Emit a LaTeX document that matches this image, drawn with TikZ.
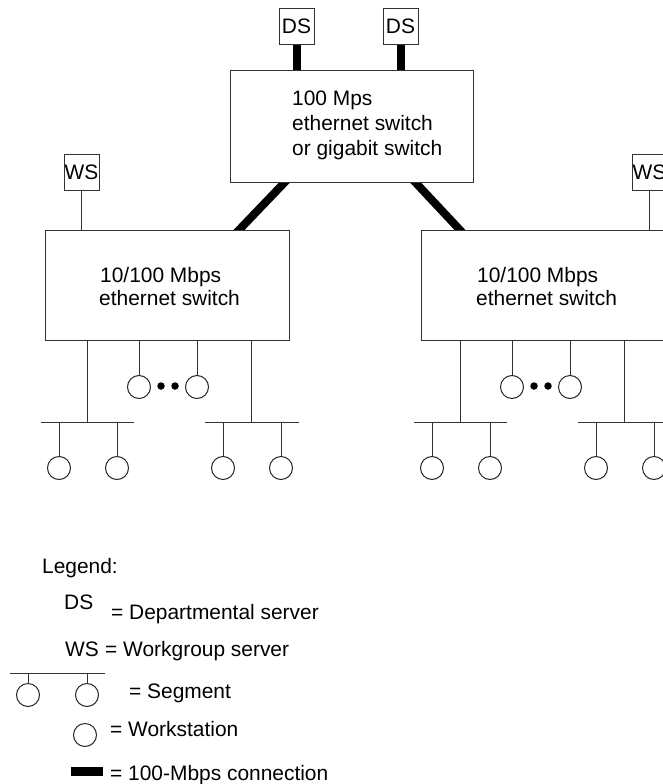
\documentclass[tikz,border=0pt]{standalone}
\usepackage{fontspec}
\setmainfont{Liberation Sans}
\usetikzlibrary{calc,positioning,backgrounds}

\begin{document}
\begin{tikzpicture}[x=1bp,y=-1bp,
  font=\fontsize{21}{25}\selectfont,
  box/.style={rectangle, draw=black!80, fill=white, line width=1bp, inner sep=0pt},
  srv/.style={rectangle, draw=black!80, fill=white, line width=1bp,
    minimum width=35bp, minimum height=36bp, inner sep=0pt},
  wst/.style={circle, draw=black!85, line width=1bp, minimum size=23bp, inner sep=0pt},
  dotn/.style={circle, fill=black, minimum size=7.5bp, inner sep=0pt},
  lbl/.style={anchor=base west, inner sep=0pt},
  wire/.style={draw=black!80, line width=1bp},
  fat/.style={line width=8bp, shorten <=-6bp, shorten >=-6bp}
]
\clip (0,0) rectangle (663,784);
\useasboundingbox (0,0) rectangle (663,784);

% Core switch and departmental servers
\node[box, minimum width=243bp, minimum height=111bp] (core) at (351.5,126.5) {};
\node[lbl] (core1) at (292,105) {100 Mps};
\node[lbl] (core2) at (292,130) {ethernet switch};
\node[lbl] (core3) at (292,155) {or gigabit switch};
\node[srv] (ds1) at (296.5,26.5) {DS};
\node[srv] (ds2) at (400.5,26.5) {DS};

% Workgroup switches
\node[box, minimum width=243bp, minimum height=110bp] (swl) at (167.5,285) {};
\node[box, minimum width=243bp, minimum height=110bp] (swr) at (542.5,285) {};
\node[lbl] (swl1) at (100,282) {10/100 Mbps};
\node[lbl] (swl2) at (99,305) {ethernet switch};
\node[lbl] (swr1) at (477,282) {10/100 Mbps};
\node[lbl] (swr2) at (476,305) {ethernet switch};
\node[srv] (wsl) at (81.5,172.5) {WS};
\node[srv] (wsr) at (649.5,172) {WS};

% 100-Mbps links
\begin{scope}[on background layer]
\draw[fat] (ds1.south) -- (ds1.south |- core.north);
\draw[fat] (ds2.south) -- (ds2.south |- core.north);
\draw[fat] ($(core.south west)+(55,0)$) -- ($(swl.north west)+(194,0)$);
\draw[fat] ($(core.south east)+(-58,0)$) -- ($(swr.north west)+(39,0)$);
\end{scope}
\draw[wire] (wsl.south) -- (wsl.south |- swl.north);
\draw[wire] (wsr.south) -- (wsr.south |- swr.north);

% Segments and workstations below each switch
\foreach \s/\dx in {l/0,r/373} {
  \coordinate (\s-ba) at (\dx+41,422);
  \coordinate (\s-bb) at (\dx+134,422);
  \coordinate (\s-bc) at (\dx+205,422);
  \coordinate (\s-bd) at (\dx+299,422);
  \coordinate (\s-t1) at (\dx+87,422);
  \coordinate (\s-t2) at (\dx+251,422);
  \draw[wire] (\s-ba) -- (\s-bb);
  \draw[wire] (\s-bc) -- (\s-bd);
  \draw[wire] (\s-t1) -- (\s-t1 |- sw\s.south);
  \draw[wire] (\s-t2) -- (\s-t2 |- sw\s.south);
  % direct workstations
  \node[wst] (\s-m1) at (\dx+139,387) {};
  \node[wst] (\s-m2) at (\dx+197,387) {};
  \node[dotn] (\s-d1) at (\dx+161,386) {};
  \node[dotn] (\s-d2) at (\dx+175,386) {};
  \draw[wire] (\s-m1.north) -- (\s-m1.north |- sw\s.south);
  \draw[wire] (\s-m2.north) -- (\s-m2.north |- sw\s.south);
  % segment workstations
  \foreach \w/\x in {1/59,2/117,3/223,4/281} {
    \node[wst] (\s-w\w) at (\dx+\x,468) {};
    \draw[wire] (\s-w\w.north) -- (\s-w\w.north |- \s-ba);
  }
}

% Legend
\node[lbl] (leg) at (42,573) {Legend:};
\node[lbl] (kds) at (64,609) {DS};
\node[lbl] (kdst) at (111,619) {= Departmental server};
\node[lbl] (kws) at (65,656) {WS};
\node[lbl] (kwst) at (105,656) {= Workgroup server};
\coordinate (ka) at (10,673);
\coordinate (kb) at (105,673);
\draw[wire] (ka) -- (kb);
\node[wst] (kw1) at (28,695) {};
\node[wst] (kw2) at (87,695) {};
\draw[wire] (kw1.north) -- (kw1.north |- ka);
\draw[wire] (kw2.north) -- (kw2.north |- ka);
\node[lbl] (kseg) at (129,698) {= Segment};
\node[wst] (kw3) at (85,735) {};
\node[lbl] (kwt) at (110,736) {= Workstation};
\node[rectangle, fill=black, minimum width=32bp, minimum height=9bp, inner sep=0pt] (kfat) at (87,771) {};
\node[lbl] (kft) at (110,780) {= 100-Mbps connection};
\end{tikzpicture}
\end{document}
